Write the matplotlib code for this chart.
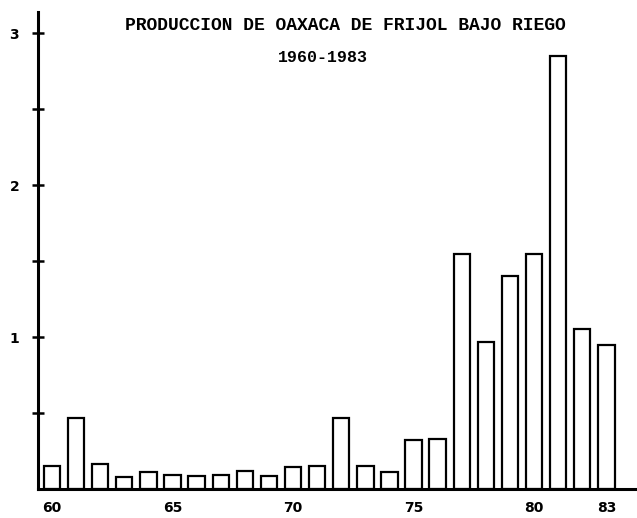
import matplotlib
matplotlib.use("Agg")
import matplotlib.pyplot as plt

years = list(range(1960, 1984))
values = [0.15, 0.47, 0.165, 0.08, 0.11, 0.09, 0.085, 0.09, 0.12, 0.085,
          0.145, 0.15, 0.47, 0.15, 0.11, 0.32, 0.33, 1.55, 0.97, 1.40,
          1.55, 2.85, 1.05, 0.95]
xtick_years = [1960, 1965, 1970, 1975, 1980, 1983]
xtick_labels = ["60", "65", "70", "75", "80", "83"]
ytick_major = [1, 2, 3]
ytick_minor = [0.5, 1.5, 2.5]
title1 = "PRODUCCION DE OAXACA DE FRIJOL BAJO RIEGO"
title2 = "1960-1983"

fig = plt.figure(figsize=(6.37, 5.18), dpi=100)
ax = fig.add_axes([38/637, 29/518, 1 - 38/637, (489-12)/518])

ax.bar(years, values, width=0.68, facecolor="white", edgecolor="black", linewidth=1.6)

ax.set_xlim(1959.42, 1984.27)
ax.set_ylim(0, 3.14)

for s in ["top", "right"]:
    ax.spines[s].set_visible(False)
for s in ["left", "bottom"]:
    ax.spines[s].set_linewidth(2.2)

ax.set_xticks(xtick_years)
ax.set_xticklabels(xtick_labels, fontfamily="DejaVu Sans", fontweight="bold", fontsize=10)
ax.tick_params(axis="x", length=0, pad=9)
ax.set_yticks(ytick_major)
ax.set_yticklabels([str(v) for v in ytick_major], fontfamily="DejaVu Sans", fontweight="bold", fontsize=10)
ax.set_yticks(ytick_minor, minor=True)
ax.tick_params(axis="y", which="both", direction="inout", length=9, width=1.8, pad=9)

fig.text(345/637, 1 - 25/518, title1, ha="center", va="center",
         fontfamily="Liberation Mono", fontweight="bold", fontsize=13)
fig.text(323/637, 1 - 58/518, title2, ha="center", va="center",
         fontfamily="Liberation Mono", fontweight="bold", fontsize=12)

fig.savefig("out.png", dpi=100)
